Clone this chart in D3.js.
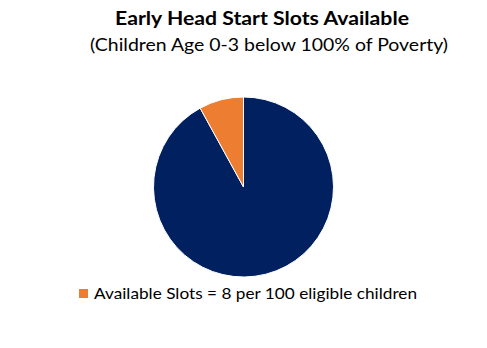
<!DOCTYPE html>
<html>
<head>
<meta charset="utf-8">
<script src="https://cdn.jsdelivr.net/npm/d3@7"></script>
<style>
  body { margin: 0; background: #fff; }
  text { font-family: Lato, "Open Sans", sans-serif; fill: #000; }
</style>
</head>
<body>
<svg id="chart" width="487" height="348"></svg>
<script>
// chart values
const categories = ['Slots not available', 'Available Slots'];
const values = [92, 8];
const colours = ['#002060', '#ED7D31'];
const legendShown = ['Available Slots'];
const legendLabels = ['Available Slots = 8 per 100 eligible children'];

const title = 'Early Head Start Slots Available';
const subtitle = '(Children Age 0-3 below 100% of Poverty)';

const svg = d3.select('#chart');
const width = 487;

// titles
svg.append('text')
    .attr('x', 262).attr('y', 25)
    .attr('text-anchor', 'middle')
    .style('font-size', '19px')
    .style('font-weight', 'bold')
    .attr('textLength', 294).attr('lengthAdjust', 'spacingAndGlyphs')
    .text(title);

svg.append('text')
    .attr('x', 269).attr('y', 51)
    .attr('text-anchor', 'middle')
    .style('font-size', '18px')
    .attr('textLength', 358).attr('lengthAdjust', 'spacingAndGlyphs')
    .text(subtitle);

// pie
const radius = 90;
const colour = d3.scaleOrdinal().domain(categories).range(colours);
const pie = d3.pie().sort(null).value((d, i) => values[i]);
const arc = d3.arc().innerRadius(0).outerRadius(radius);

const g = svg.append('g').attr('transform', 'translate(243.5,187)');
g.selectAll('path')
    .data(pie(categories))
    .join('path')
    .attr('d', arc)
    .attr('fill', d => colour(d.data))
    .attr('stroke', '#fff')
    .attr('stroke-width', 1);

// legend
const legend = svg.append('g').attr('transform', 'translate(79,289)');
legendShown.forEach((c, i) => {
    legend.append('rect')
        .attr('x', 0).attr('y', 0)
        .attr('width', 9).attr('height', 9)
        .attr('fill', colour(c));
    legend.append('text')
        .attr('x', 15).attr('y', 10)
        .style('font-size', '16px')
        .attr('textLength', 323).attr('lengthAdjust', 'spacingAndGlyphs')
        .text(legendLabels[i]);
});
</script>
</body>
</html>
